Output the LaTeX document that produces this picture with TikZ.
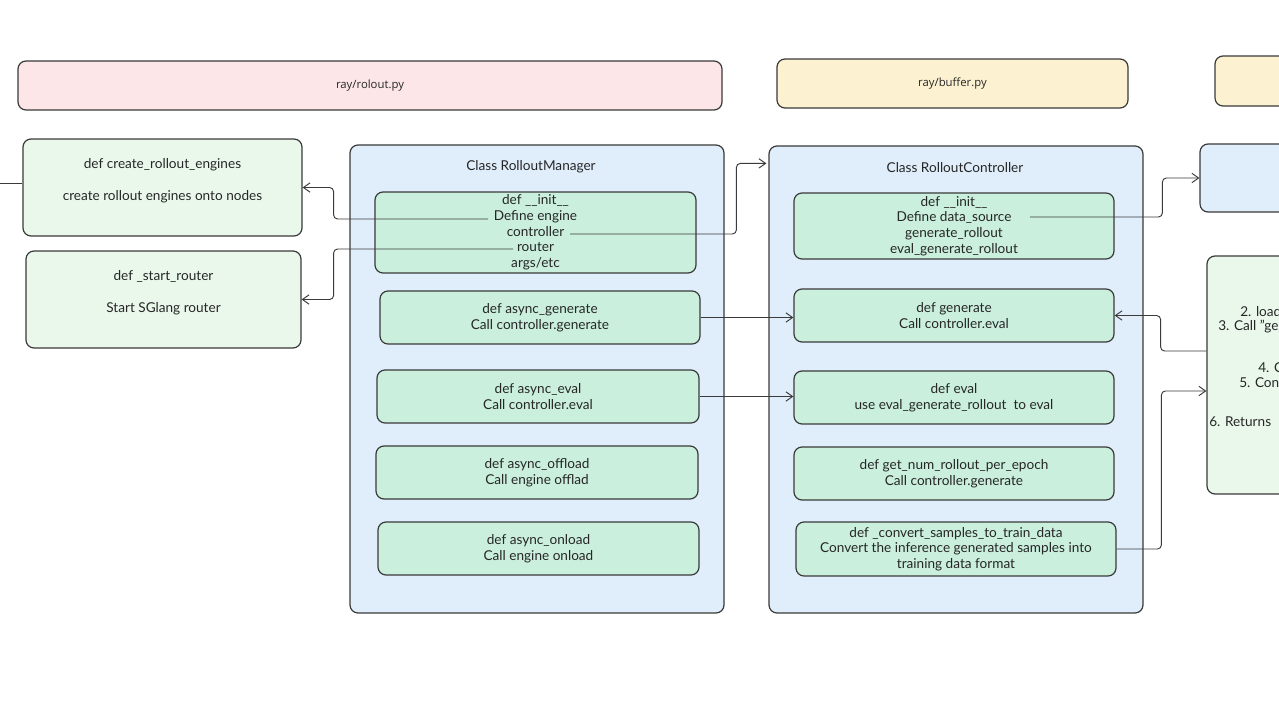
\documentclass[tikz,border=0pt]{standalone}
\usepackage{fontspec}
\setmainfont{Lato}
\newfontfamily\hdrfont{Open Sans}
\usetikzlibrary{arrows.meta,calc}
\definecolor{pinkF}{HTML}{FCE6E8}
\definecolor{yellowF}{HTML}{FCF1D0}
\definecolor{blueF}{HTML}{E0EEFB}
\definecolor{lgreenF}{HTML}{EAF8EC}
\definecolor{tealF}{HTML}{CAEFDD}
\definecolor{inkC}{HTML}{3A3A3A}
\begin{document}
\begin{tikzpicture}[x=0.75pt,y=-0.75pt,
  sz/.style 2 args={minimum width=#1*0.75pt, minimum height=#2*0.75pt},
  box/.style={draw=inkC, line width=0.9pt, rounded corners=6pt, inner sep=0pt, align=center,
    font=\fontsize{10.2}{11.8}\selectfont, text=black!85},
  hdr/.style={box, font=\hdrfont\fontsize{8.5}{10}\selectfont},
  titletxt/.style={font=\fontsize{10.2}{11.8}\selectfont, text=black!85, inner sep=0pt},
  parttxt/.style={font=\fontsize{10.2}{11.8}\selectfont, text=black!85, inner sep=0pt, anchor=west},
  conn/.style={draw=inkC, line width=0.7pt, rounded corners=3pt},
  arr/.style={conn, -{Straight Barb[length=5pt,width=7pt]}}]
\useasboundingbox (0,0) rectangle (1279,720);
\clip (0,0) rectangle (1279,720);
\fill[white] (0,0) rectangle (1279,720);

% headers
\node[hdr, fill=pinkF, sz={704}{49}] (hdr1) at (370,85.5) {ray/rolout.py};
\node[hdr, fill=yellowF, sz={351}{49}] (hdr2) at (952.5,83.5) {ray/buffer.py};
\node[hdr, fill=yellowF, sz={130}{50}] (hdr3) at (1280,81) {};

% left boxes
\node[box, fill=lgreenF, sz={279}{97}] (eng) at (162.5,187.5)
  {def create\_rollout\_engines\\ \\create rollout engines onto nodes\\ };
\node[box, fill=lgreenF, sz={275}{97}] (rtr) at (163.5,299.5)
  {def \_start\_router\\ \\Start SGlang router\\ };

% RolloutManager
\node[box, fill=blueF, sz={374}{468}] (mgr) at (537,379) {};
\node[titletxt] (mgrT) at (531,167) {Class RolloutManager};
\node[box, fill=tealF, sz={321}{81}] (minit) at (535.5,232.5)
  {def \_\_init\_\_\\Define engine\\controller\\router\\args/etc};
\node[box, fill=tealF, sz={320}{53}] (mgen) at (540,317.5)
  {def async\_generate\\Call controller.generate};
\node[box, fill=tealF, sz={322}{53}] (meval) at (538,396.5)
  {def async\_eval\\Call controller.eval};
\node[box, fill=tealF, sz={322}{53}] (moff) at (537,472.5)
  {def async\_offload\\Call engine offlad};
\node[box, fill=tealF, sz={321}{53}] (mon) at (538.5,548.5)
  {def async\_onload\\Call engine onload};

% RolloutController
\node[box, fill=blueF, sz={374}{467}] (ctl) at (956,379.5) {};
\node[titletxt] (ctlT) at (955,168) {Class RolloutController};
\node[box, fill=tealF, sz={320}{66}] (cinit) at (954,226)
  {def \_\_init\_\_\\Define data\_source\\generate\_rollout\\eval\_generate\_rollout};
\node[box, fill=tealF, sz={320}{53}] (cgen) at (954,315.5)
  {def generate\\Call controller.eval};
\node[box, fill=tealF, sz={320}{53}] (ceval) at (954,397.5)
  {def eval\\use eval\_generate\_rollout\ \ to eval};
\node[box, fill=tealF, sz={320}{53}] (cnum) at (954,473.5)
  {def get\_num\_rollout\_per\_epoch\\Call controller.generate};
\node[box, fill=tealF, sz={320}{54}] (cconv) at (956,549)
  {def \_convert\_samples\_to\_train\_data\\Convert the inference generated samples into\\training data format};

% right partial boxes
\node[box, fill=blueF, sz={140}{68}] (rblue) at (1270,178) {};
\node[box, fill=lgreenF, sz={140}{238}] (rgreen) at (1277,375) {};
\node[parttxt] (g2) at (1240,312) {2. load};
\node[parttxt] (g3) at (1218,327) {3. Call "ge};
\node[parttxt] (g4) at (1258,368) {4. C};
\node[parttxt] (g5) at (1239,383) {5. Conv};
\node[parttxt] (g6) at (1209,422) {6. Returns};

% tap points on text lines
\coordinate (engTap) at (488,219);
\coordinate (rtrTap) at (513,249);
\coordinate (ctlTap) at (570,234);
\coordinate (dsTap) at (1030,217);
\coordinate (lend) at (0,183);

% connectors
\draw[conn] (lend) -- (lend -| eng.west);
\draw[arr] (engTap) -| ([xshift=31*0.75pt]eng.east) -- (eng.east);
\draw[arr] (rtrTap) -| ([xshift=32*0.75pt]rtr.east) -- (rtr.east);
\draw[arr, shorten >=1.5pt] (ctlTap) -| ([xshift=-32*0.75pt,yshift=-18*0.75pt]ctl.north west) -- ([yshift=-18*0.75pt]ctl.north west);
\draw[arr] (mgen.east) -- (mgen.east -| cgen.west);
\draw[arr] (meval.east) -- (meval.east -| ceval.west);
\draw[arr] (dsTap) -| ([xshift=-37*0.75pt]rblue.west) -- (rblue.west);
\draw[arr] ([yshift=24*0.75pt]rgreen.west) -| ([xshift=46*0.75pt]cgen.east) -- (cgen.east);
\draw[arr] (cconv.east) -| ([xshift=-45*0.75pt,yshift=-16*0.75pt]rgreen.west) -- ([yshift=-16*0.75pt]rgreen.west);
\end{tikzpicture}
\end{document}
